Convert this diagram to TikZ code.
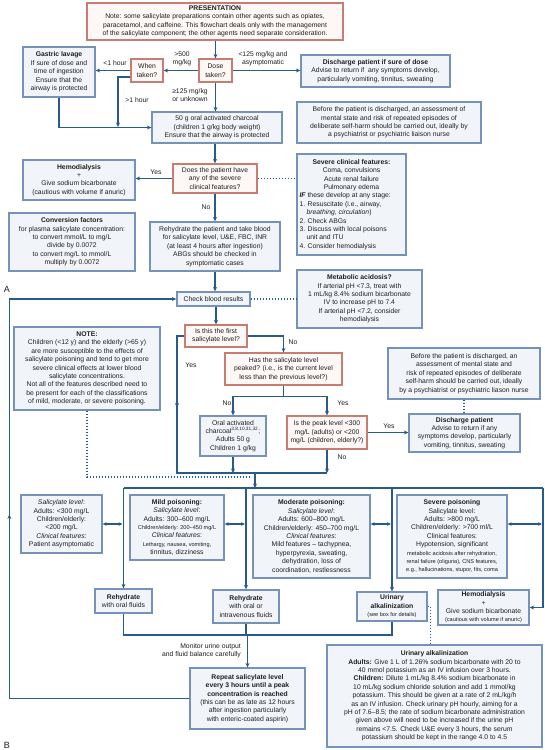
\documentclass[tikz,border=0pt]{standalone}
\usepackage{fontspec}
\setmainfont{Liberation Sans}
\usetikzlibrary{arrows.meta,decorations.markings}
\definecolor{bbd}{RGB}{118,146,186}
\definecolor{bfill}{RGB}{241,245,250}
\definecolor{rbd}{RGB}{200,125,115}
\definecolor{rfill}{RGB}{253,248,246}
\definecolor{lc}{RGB}{40,90,140}
\definecolor{txt}{RGB}{30,30,30}
\newcommand\fsz{\fontsize{6.8}{8.4}\selectfont}
\newcommand\fsm{\fontsize{5.6}{7.4}\selectfont}
\newcommand\lft[1]{\makebox[104pt][l]{#1}}
\newcommand\mkbox[7]{%
  \pgfmathsetmacro\mkW{#5-#3}\pgfmathsetmacro\mkH{#6-#4}%
  \pgfmathsetmacro\mkX{(#3+#5)/2}\pgfmathsetmacro\mkY{(#4+#6)/2}%
  \node[#1, minimum width=\mkW pt, minimum height=\mkH pt] (#2) at (\mkX,\mkY) {#7};}
\begin{document}
\begin{tikzpicture}[x=1pt,y=-1pt,
  bbox/.style={draw=bbd, fill=bfill, line width=1.3pt, inner sep=1pt, align=center, font=\fsz, text=txt},
  rbox/.style={bbox, draw=rbd, fill=rfill},
  ln/.style={draw=lc, line width=1.1pt},
  arr/.style={ln, -{Stealth[length=4.5pt,width=4pt]}},
  dbl/.style={ln, {Stealth[length=4pt,width=3.6pt]}-{Stealth[length=4pt,width=3.6pt]}},
  dot/.style={ln, dash pattern=on 1.3pt off 1.7pt},
  lbl/.style={font=\fsz, text=txt, align=center, inner sep=0pt},
  midarr/.style={postaction={decorate,decoration={markings,mark=at position #1 with {\arrow[lc]{Stealth[length=4.5pt,width=4pt]}}}}}]
\fill[white] (0,0) rectangle (545,750);
\useasboundingbox (0,0) rectangle (545,750);

% ---------- boxes ----------
\mkbox{rbox}{pres}{87}{3}{343}{40}{\textbf{PRESENTATION}\\Note: some salicylate preparations contain other agents such as opiates,\\paracetamol, and caffeine. This flowchart deals only with the management\\of the salicylate component; the other agents need separate consideration.}
\mkbox{bbox}{lav}{23}{47}{95}{97}{\textbf{Gastric lavage}\\If sure of dose and\\time of ingestion\\Ensure that the\\airway is protected}
\mkbox{rbox}{when}{131}{59}{163}{82}{When\\taken?}
\mkbox{rbox}{dose}{199}{59}{232}{82}{Dose\\taken?}
\mkbox{bbox}{dis1}{301}{55}{450}{87}{\textbf{Discharge patient if sure of dose}\\Advise to return if\ \ any symptoms develop,\\particularly vomiting, tinnitus, sweating}
\mkbox{bbox}{charc}{152}{112}{282}{143}{50 g oral activated charcoal\\(children 1 g/kg body weight)\\Ensure that the airway is protected}
\mkbox{bbox}{bef1}{297}{102}{481}{143}{Before the patient is discharged, an assessment of\\mental state and risk of repeated episodes of\\deliberate self-harm should be carried out, ideally by\\a psychiatrist or psychiatric liaison nurse}
\mkbox{bbox}{hemo1}{23}{160}{135}{200}{\textbf{Hemodialysis}\\+\\Give sodium bicarbonate\\(cautious with volume if anuric)}
\mkbox{rbox}{does}{173}{164}{257}{193}{Does the patient have\\any of the severe\\clinical features?}
\mkbox{bbox}{sev}{297}{154}{406}{255}{\textbf{Severe clinical features:}\\Coma, convulsions\\Acute renal failure\\Pulmonary edema\\\lft{\textbf{\textit{IF}} these develop at any stage:}\\\lft{1. Resuscitate (i.e., airway,}\\\lft{\hspace*{7pt}\textit{breathing}, \textit{circulation})}\\\lft{2. Check ABGs}\\\lft{3. Discuss with local poisons}\\\lft{\hspace*{7pt}unit and ITU}\\\lft{4. Consider hemodialysis}}
\mkbox{bbox}{conv}{9}{213}{135}{271}{\textbf{Conversion factors}\\for plasma salicylate concentration:\\to convert mmol/L to mg/L\\divide by 0.0072\\to convert mg/L to mmol/L\\multiply by 0.0072}
\mkbox{bbox}{rehyd}{150}{222}{280}{271}{Rehydrate the patient and take blood\\for salicylate level, U\&E, FBC, INR\\(at least 4 hours after ingestion)\\ABGs should be checked in\\symptomatic cases}
\mkbox{bbox}{check}{177}{292}{250}{306}{Check blood results}
\mkbox{bbox}{meta}{297}{270}{422}{328}{\textbf{Metabolic acidosis?}\\If arterial pH <7.3, treat with\\1 mL/kg 8.4\% sodium bicarbonate\\IV to increase pH to 7.4\\If arterial pH <7.2, consider\\hemodialysis}
\mkbox{bbox}{note}{14}{327}{160}{410}{\textbf{NOTE:}\\Children (<12 y) and the elderly (>65 y)\\are more susceptible to the effects of\\salicylate poisoning and tend to get more\\severe clinical effects at lower blood\\salicylate concentrations.\\Not all of the features described need to\\be present for each of the classifications\\of mild, moderate, or severe poisoning.}
\mkbox{rbox}{first}{185}{325}{247}{347}{Is this the first\\salicylate level?}
\mkbox{rbox}{has}{225}{353}{342}{385}{Has the salicylate level\\peaked? (i.e., is the current level\\less than the previous level?)}
\mkbox{bbox}{bef2}{388}{348}{540}{399}{Before the patient is discharged, an\\assessment of mental state and\\risk of repeated episodes of deliberate\\self-harm should be carried out, ideally\\by a psychiatrist or psychiatric liason nurse}
\mkbox{bbox}{charc2}{200}{416}{266}{456}{Oral activated\\charcoal\textsuperscript{3,8,10,31,32};\\Adults 50 g\\Children 1 g/kg}
\mkbox{rbox}{peak}{287}{416}{367}{449}{Is the peak level <300\\mg/L (adults) or <200\\mg/L (children, elderly?)}
\mkbox{bbox}{dis2}{409}{414}{520}{452}{\textbf{Discharge patient}\\Advise to return if any\\symptoms develop, particularly\\vomiting, tinnitus, sweating}
\mkbox{bbox}{asym}{21}{495}{102}{553}{\textit{Salicylate level}:\\Adults: <300 mg/L\\Children/elderly:\\<200 mg/L\\\textit{Clinical features}:\\Patient asymptomatic}
\mkbox{bbox}{mild}{130}{495}{224}{560}{\textbf{Mild poisoning:}\\\textit{Salicylate level}:\\Adults: 300–600 mg/L\\{\fsm Children/elderly: 200–450 mg/L}\\\textit{Clinical features}:\\{\fsm Lethargy, nausea, vomiting,}\\tinnitus, dizziness}
\mkbox{bbox}{moder}{253}{495}{370}{578}{\textbf{Moderate poisoning:}\\\textit{Salicylate level}:\\Adults: 600–800 mg/L\\Children/elderly: 450–700 mg/L\\\textit{Clinical features}:\\Mild features – tachypnea,\\hyperpyrexia, sweating,\\dehydration, loss of\\coordination, restlessness}
\mkbox{bbox}{sev2}{397}{495}{507}{578}{\textbf{Severe poisoning}\\Salicylate level:\\Adults: >800 mg/L\\Children/elderly: >700 ml/L\\Clinical features:\\Hypotension, significant\\{\fsm metabolic acidosis after rehydration,}\\{\fsm renal failure (oliguria), CNS features,}\\{\fsm e.g., hallucinations, stupor, fits, coma}}
\mkbox{bbox}{rehox}{95}{589}{152}{613}{\textbf{Rehydrate}\\with oral fluids}
\mkbox{bbox}{rehiv}{213}{590}{279}{623}{\textbf{Rehydrate}\\with oral or\\intravenous fluids}
\mkbox{bbox}{uasm}{357}{592}{427}{621}{\textbf{Urinary}\\\textbf{alkalinization}\\{\fsm (see box for details)}}
\mkbox{bbox}{hemo2}{438}{590}{529}{625}{\textbf{Hemodialysis}\\+\\Give sodium bicarbonate\\{\fsm (cautious with volume if anuric)}}
\mkbox{bbox}{ua}{327}{645}{542}{747}{\fontsize{6.7}{8.4}\selectfont\textbf{Urinary alkalinization}\\\textbf{Adults:} Give 1 L of 1.26\% sodium bicarbonate with 20 to\\40 mmol potassium as an IV infusion over 3 hours.\\\textbf{Children:} Dilute 1 mL/kg 8.4\% sodium bicarbonate in\\10 mL/kg sodium chloride solution and add 1 mmol/kg\\potassium. This should be given at a rate of 2 mL/kg/h\\as an IV infusion. Check urinary pH hourly, aiming for a\\pH of 7.6–8.5; the rate of sodium bicarbonate administration\\given above will need to be increased if the urine pH\\remains <7.5. Check U\&E every 3 hours, the serum\\potassium should be kept in the range 4.0 to 4.5}
\mkbox{bbox}{repeat}{190}{668}{305}{729}{\textbf{Repeat salicylate level}\\\textbf{every 3 hours until a peak}\\\textbf{concentration is reached}\\(this can be as late as 12 hours\\after ingestion particularly\\with enteric-coated aspirin)}

% ---------- labels ----------
\node[lbl] (l1) at (182,59) {>500\\mg/kg};
\node[lbl] (l2) at (263,59) {<125 mg/kg and\\asymptomatic};
\node[lbl] (l3) at (115,63) {<1 hour};
\node[lbl] (l4) at (137,100) {>1 hour};
\node[lbl] (l5) at (190,95) {≥125 mg/kg\\or unknown};
\node[lbl] (l6) at (156,172) {Yes};
\node[lbl] (l7) at (206,207) {No};
\node[lbl] (l8) at (293,342) {No};
\node[lbl] (l9) at (191,365) {Yes};
\node[lbl] (l10) at (227,403) {No};
\node[lbl] (l11) at (343,403) {Yes};
\node[lbl] (l12) at (342,457) {No};
\node[lbl] (l13) at (389,426) {Yes};
\node[lbl, align=right, anchor=east] (l14) at (241,651) {Monitor urine output\\and fluid balance carefully};
\node[font=\fontsize{9}{10}\selectfont, text=txt, inner sep=0pt] (la) at (7,289) {A};
\node[font=\fontsize{9}{10}\selectfont, text=txt, inner sep=0pt] (lb2) at (7,745) {B};

% ---------- coordinates ----------
\coordinate (wt) at (118,127);
\coordinate (yc) at (177,473);
\coordinate (mj) at (255,473);
\coordinate (dj) at (251,477);
\coordinate (bus) at (0,488);
\coordinate (busr) at (543,488);
\coordinate (da) at (0,524);
\coordinate (lb) at (0,635);

% ---------- connectors ----------
\draw[arr] (pres.south -| dose.north) -- (dose.north);
\draw[arr] (dose.west) -- (when.east);
\draw[arr] (dose.east) -- (dose.east -| dis1.west);
\draw[arr] (dose.south) -- (dose.south |- charc.north);
\draw[arr] (when.west) -- (when.west -| lav.east);
\draw[arr] ([yshift=-6.5pt]when.west) -| (wt);
\draw[arr] (lav.south) |- (charc.west);
\draw[arr] (charc.south -| does.north) -- (does.north);
\draw[arr] (does.west) -- (does.west -| hemo1.east);
\draw[dot] (does.east) -- (does.east -| sev.west);
\draw[arr] (does.south) -- (does.south |- rehyd.north);
\draw[arr] (rehyd.south) -- (rehyd.south |- check.north);
\draw[dot] (check.east) -- (check.east -| meta.west);
\draw[arr] (check.south -| first.north) -- (first.north);
\draw[arr, midarr=364pt] (repeat.west) -- ++(-180,0) |- (check.west);
\draw[arr] (first.east) -| (has.north);
\draw[ln, midarr=79pt] (first.west) -| (yc) -- (yc -| peak.south);
\draw[ln] (has.south) -- ++(0,11) coordinate (hj);
\draw[arr] (hj) -| (charc2.north);
\draw[arr] (hj) -| (peak.north);
\draw[arr] (charc2.south) -- (charc2.south |- yc);
\draw[arr] (peak.south) -- (peak.south |- yc);
\draw[arr] (peak.east) -- (peak.east -| dis2.west);
\draw[dot] (bef2.south) -- (bef2.south |- dis2.north);
\draw[dot] (note.south) |- (dj);
\draw[arr] (mj) -- (mj |- bus);
\draw[ln] (rehox.north |- bus) -- (busr);
\draw[arr] (rehox.north |- bus) -- (rehox.north);
\draw[arr] (rehiv.north |- bus) -- (rehiv.north);
\draw[arr] (uasm.north |- bus) -- (uasm.north);
\draw[arr] (busr) |- (hemo2.east);
\draw[dbl] (asym.east |- da) -- ([xshift=-1pt]rehox.north |- da);
\draw[dbl] (mild.east |- da) -- ([xshift=-1pt]rehiv.north |- da);
\draw[dbl] (moder.east |- da) -- ([xshift=-1pt]uasm.north |- da);
\draw[dbl] (sev2.east |- da) -- ([xshift=-1pt]busr |- da);
\draw[ln] (rehox.south) |- (uasm.south |- lb) -- (uasm.south);
\draw[ln] (rehiv.south) -- (rehiv.south |- lb);
\draw[arr] (repeat.north |- lb) -- (repeat.north);
\draw[dot] (uasm.east) -| ([xshift=-4pt]ua.north);
\end{tikzpicture}
\end{document}
